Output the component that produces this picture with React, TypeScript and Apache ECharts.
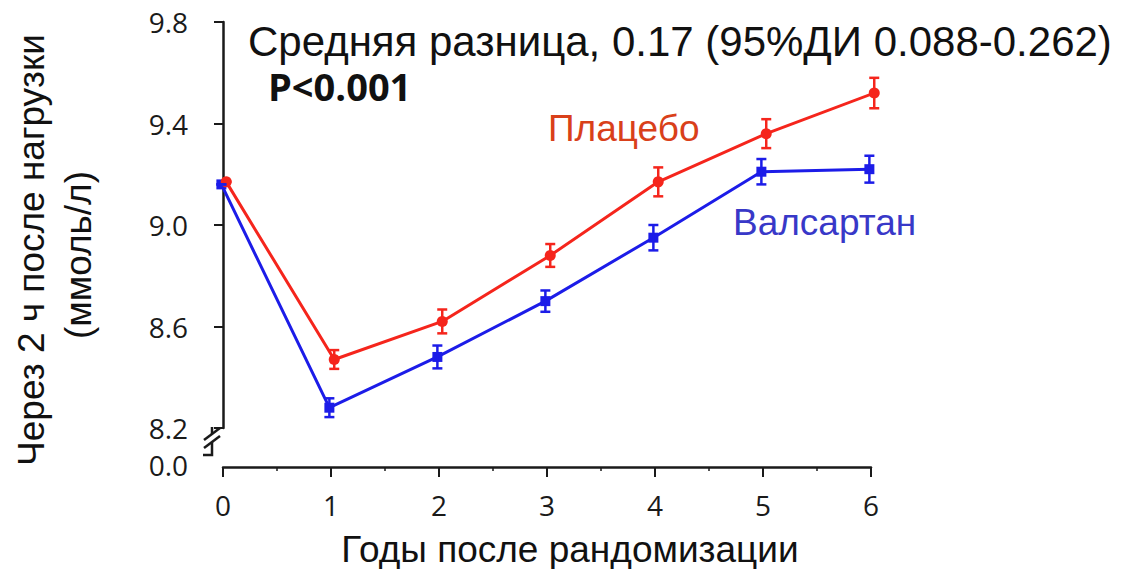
import React, { useEffect, useRef } from "react";
import * as echarts from "echarts";

const years = [0, 1, 2, 3, 4, 5, 6];
const placebo = [9.17, 8.47, 8.62, 8.88, 9.17, 9.36, 9.52];
const placeboErr = [0, 0.037, 0.047, 0.045, 0.057, 0.057, 0.06];
const valsartan = [9.16, 8.28, 8.48, 8.7, 8.95, 9.21, 9.22];
const valsartanErr = [0, 0.037, 0.045, 0.042, 0.05, 0.05, 0.053];
const yTicks = { min: 8.2, max: 9.8, step: 0.4 };
const xTicks = { min: 0, max: 6, step: 1 };
const titleText = "Средняя разница, 0.17 (95%ДИ 0.088-0.262)";
const pText = "P<0.001";
const placeboName = "Плацебо";
const valsartanName = "Валсартан";
const yTitle1 = "Через 2 ч после нагрузки";
const yTitle2 = "(ммоль/л)";
const xTitle = "Годы после рандомизации";

const RED = "#f5251c";
const BLUE = "#1c1ce8";
const RED_DODGE = 0.03;
const BLUE_DODGE = -0.015;

function errSeries(vals: number[], errs: number[], dodge: number, color: string) {
  return {
    type: "custom",
    z: 5,
    clip: false,
    data: years.map((x, i) => [x + dodge, vals[i] - errs[i], vals[i] + errs[i]]),
    renderItem: (params: any, api: any) => {
      const x = api.value(0);
      const top = api.coord([x, api.value(2)]);
      const bot = api.coord([x, api.value(1)]);
      const w = 5;
      const st = { stroke: color, lineWidth: 2.5 };
      return {
        type: "group",
        children: [
          { type: "line", shape: { x1: top[0], y1: top[1], x2: bot[0], y2: bot[1] }, style: st },
          { type: "line", shape: { x1: top[0] - w, y1: top[1], x2: top[0] + w, y2: top[1] }, style: st },
          { type: "line", shape: { x1: bot[0] - w, y1: bot[1], x2: bot[0] + w, y2: bot[1] }, style: st },
        ],
      };
    },
  };
}

export default function App() {
  const ref = useRef<HTMLDivElement>(null);
  useEffect(() => {
    document.body.style.margin = "0";
    const chart = echarts.init(ref.current!, null, { renderer: "svg" });
    const axisColor = "#1a1a1a";
    const tickFont = { fontFamily: "Open Sans", fontSize: 28, lineHeight: 28, color: "#1a1a1a" };
    const textFont = "Liberation Sans";
    chart.setOption({
      animation: false,
      backgroundColor: "#ffffff",
      grid: { left: 223, right: 258, top: 22, bottom: 141, containLabel: false, outerBoundsMode: "none" },
      xAxis: {
        type: "value",
        min: xTicks.min,
        max: xTicks.max,
        interval: xTicks.step,
        offset: 39,
        axisLine: { show: true, lineStyle: { color: axisColor, width: 2.5 } },
        axisTick: { show: true, length: 10, lineStyle: { color: axisColor, width: 2 } },
        minorTick: { show: true, splitNumber: 2, length: 4, lineStyle: { color: axisColor, width: 1.5 } },
        axisLabel: { ...tickFont, margin: 24 },
        splitLine: { show: false },
      },
      yAxis: {
        type: "value",
        min: yTicks.min,
        max: yTicks.max,
        interval: yTicks.step,
        offset: 11,
        axisLine: { show: true, lineStyle: { color: axisColor, width: 2.5 } },
        axisTick: { show: true, length: 9, lineStyle: { color: axisColor, width: 2 } },
        axisLabel: { ...tickFont, margin: 24, formatter: (v: number) => v.toFixed(1) },
        splitLine: { show: false },
      },
      series: [
        {
          type: "line",
          name: placeboName,
          clip: false,
          data: years.map((x, i) => [x + RED_DODGE, placebo[i]]),
          symbol: "circle",
          symbolSize: 11,
          lineStyle: { color: RED, width: 3 },
          itemStyle: { color: RED },
          z: 3,
        },
        {
          type: "line",
          name: valsartanName,
          clip: false,
          data: years.map((x, i) => [x + BLUE_DODGE, valsartan[i]]),
          symbol: "rect",
          symbolSize: 10,
          lineStyle: { color: BLUE, width: 3 },
          itemStyle: { color: BLUE },
          z: 2,
        },
        errSeries(placebo, placeboErr, RED_DODGE, RED),
        errSeries(valsartan, valsartanErr, BLUE_DODGE, BLUE),
      ],
      graphic: [
        { type: "line", shape: { x1: 212, y1: 427, x2: 212, y2: 434 }, style: { stroke: axisColor, lineWidth: 2.5 } },
        { type: "line", shape: { x1: 204, y1: 440, x2: 220, y2: 428 }, style: { stroke: axisColor, lineWidth: 2.5 } },
        { type: "line", shape: { x1: 204, y1: 448, x2: 220, y2: 436 }, style: { stroke: axisColor, lineWidth: 2.5 } },
        { type: "polyline", shape: { points: [[212, 442], [212, 455], [203, 455]] }, style: { stroke: axisColor, lineWidth: 2.5, fill: "none" } },
        { type: "text", x: 188, y: 465, style: { text: "0.0", fontFamily: "Open Sans", fontSize: 28, lineHeight: 28, fill: "#1a1a1a", textAlign: "right", textVerticalAlign: "middle" } },
        { type: "text", x: 248, y: 41, style: { text: titleText, fontFamily: textFont, fontSize: 42, fill: "#111", textAlign: "left", textVerticalAlign: "middle" } },
        { type: "text", x: 268, y: 86, style: { text: pText, fontFamily: "Open Sans", fontWeight: "bold", fontSize: 38, fill: "#111", textAlign: "left", textVerticalAlign: "middle" } },
        { type: "text", x: 548, y: 128, style: { text: placeboName, fontFamily: textFont, fontSize: 37, fill: "#d9401a", textAlign: "left", textVerticalAlign: "middle" } },
        { type: "text", x: 733, y: 222, style: { text: valsartanName, fontFamily: textFont, fontSize: 37, fill: "#3838c8", textAlign: "left", textVerticalAlign: "middle" } },
        { type: "text", x: 31, y: 250, rotation: Math.PI / 2, style: { text: yTitle1, fontFamily: textFont, fontSize: 37, fill: "#111", textAlign: "center", textVerticalAlign: "middle" } },
        { type: "text", x: 78, y: 255, rotation: Math.PI / 2, style: { text: yTitle2, fontFamily: textFont, fontSize: 37, fill: "#111", textAlign: "center", textVerticalAlign: "middle" } },
        { type: "text", x: 570, y: 549, style: { text: xTitle, fontFamily: textFont, fontSize: 37, fill: "#111", textAlign: "center", textVerticalAlign: "middle" } },
      ],
    });
    return () => chart.dispose();
  }, []);
  return <div ref={ref} style={{ width: 1129, height: 569 }} />;
}
